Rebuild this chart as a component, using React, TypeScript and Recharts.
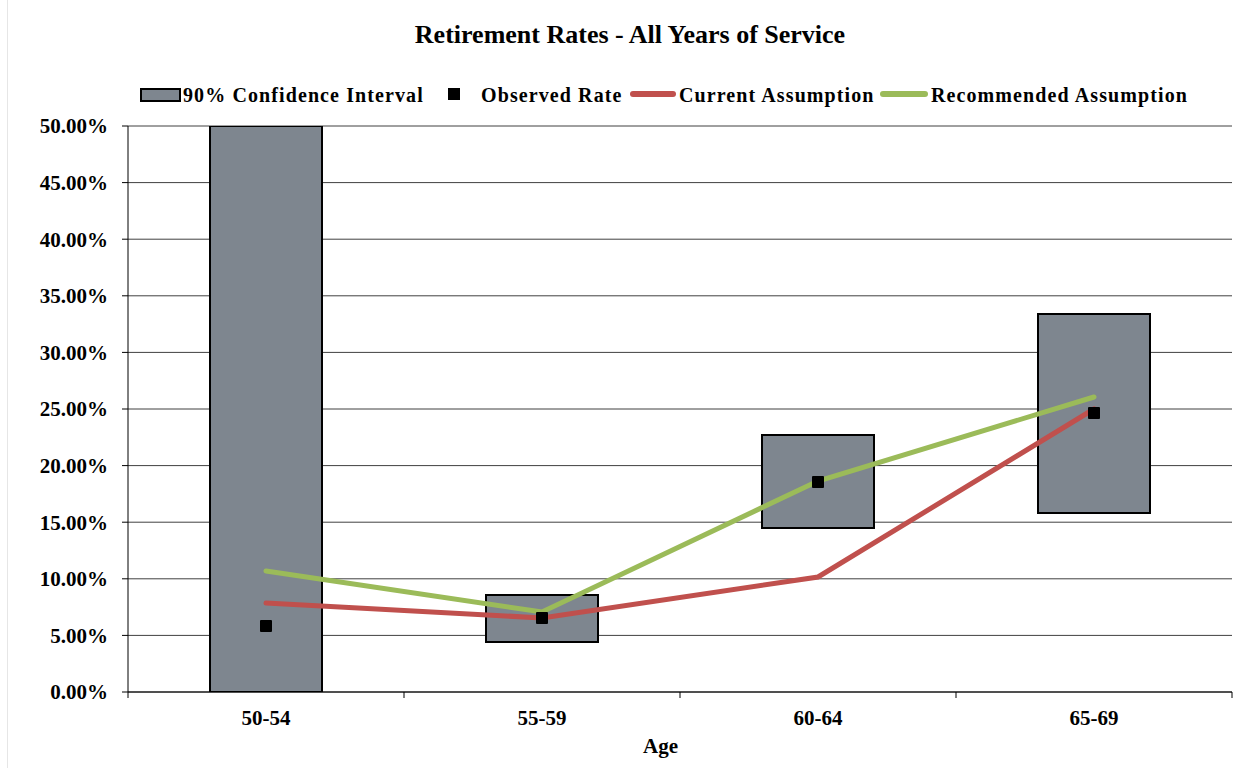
import { ComposedChart, Bar, Line, XAxis, YAxis, CartesianGrid } from "recharts";

const ages = ["50-54", "55-59", "60-64", "65-69"];
const ciLow = [0, 0.0442, 0.1449, 0.1581];
const ciHigh = [0.5, 0.0857, 0.227, 0.3339];
const observed = [0.0583, 0.0654, 0.1855, 0.2465];
const current = [0.0786, 0.0654, 0.1016, 0.25];
const recommended = [0.1069, 0.0707, 0.1864, 0.2606];
const yTicks = [0, 0.05, 0.1, 0.15, 0.2, 0.25, 0.3, 0.35, 0.4, 0.45, 0.5];

const data = ages.map((age, i) => ({
  age,
  ci: [ciLow[i], ciHigh[i]],
  observed: observed[i],
  current: current[i],
  recommended: recommended[i],
}));

const FONT = '"Liberation Serif", "Times New Roman", serif';
const GRAY = "#7e868f";
const RED = "#c0504d";
const GREEN = "#9bbb59";
const X_MARGIN = 18;

const Square = (props: any) => {
  const { cx, cy } = props;
  if (cx == null || cy == null) return null;
  return <rect x={cx - 6} y={cy - 6} width={12} height={12} fill="#000" rx={1} />;
};

// category label plus tick marks on the category boundaries
const AgeTick = (props: any) => {
  const { x, y, payload, index } = props;
  const half = payload && payload.offset ? payload.offset : 138;
  const axisY = y - X_MARGIN;
  const last = index === ages.length - 1;
  return (
    <g>
      <line x1={x - half} x2={x - half} y1={axisY} y2={axisY + 6} stroke="#000" />
      {last && <line x1={x + half} x2={x + half} y1={axisY} y2={axisY + 6} stroke="#000" />}
      <text x={x} y={y} dy="0.71em" textAnchor="middle" fill="#000" fontFamily={FONT} fontWeight={700} fontSize={21}>
        {payload.value}
      </text>
    </g>
  );
};

const legendText = { position: "absolute" as const, top: 84, fontFamily: FONT, fontWeight: 700, fontSize: 20, letterSpacing: 1.1, lineHeight: "22px", color: "#000", whiteSpace: "nowrap" as const };

export default function App() {
  return (
    <div style={{ position: "absolute", left: 0, top: 0, width: 1233, height: 768, background: "#fff" }}>
      <div style={{ position: "absolute", left: 7, top: 0, width: 1, height: 768, background: "#e6e6e6" }} />
      <div style={{ position: "absolute", top: 20, left: 0, width: 1260, textAlign: "center", fontFamily: FONT, fontWeight: 700, fontSize: 26 }}>
        Retirement Rates - All Years of Service
      </div>
      {/* legend */}
      <div style={{ position: "absolute", left: 140, top: 88, width: 37, height: 10, background: GRAY, border: "2px solid #000" }} />
      <span style={{ ...legendText, left: 183 }}>90% Confidence Interval</span>
      <div style={{ position: "absolute", left: 448, top: 88, width: 12, height: 12, background: "#000" }} />
      <span style={{ ...legendText, left: 481 }}>Observed Rate</span>
      <div style={{ position: "absolute", left: 630, top: 91, width: 46, height: 6, borderRadius: 3, background: RED }} />
      <span style={{ ...legendText, left: 679 }}>Current Assumption</span>
      <div style={{ position: "absolute", left: 880, top: 91, width: 48, height: 6, borderRadius: 3, background: GREEN }} />
      <span style={{ ...legendText, left: 931 }}>Recommended Assumption</span>

      <div style={{ position: "absolute", left: 0, top: 0 }}>
        <ComposedChart width={1233} height={768} data={data} margin={{ top: 126, right: 1, left: 0, bottom: 46 }}>
          <CartesianGrid vertical={false} stroke="#404040" strokeWidth={1} />
          <XAxis
            dataKey="age"
            height={30}
            axisLine={{ stroke: "#000" }}
            tickLine={false}
            tickSize={0}
            tickMargin={X_MARGIN}
            tick={<AgeTick />}
          />
          <YAxis
            width={128}
            domain={[0, 0.5]}
            ticks={yTicks}
            allowDataOverflow
            tickSize={6}
            tickMargin={14}
            axisLine={{ stroke: "#000" }}
            tickLine={{ stroke: "#000" }}
            tickFormatter={(v: number) => (v * 100).toFixed(2) + "%"}
            tick={{ fill: "#000", fontFamily: FONT, fontWeight: 700, fontSize: 21 }}
          />
          <Bar dataKey="ci" barSize={112} fill={GRAY} stroke="#000" strokeWidth={2} isAnimationActive={false} />
          <Line dataKey="current" stroke={RED} strokeWidth={5} dot={false} activeDot={false} strokeLinecap="round" isAnimationActive={false} />
          <Line dataKey="recommended" stroke={GREEN} strokeWidth={5} dot={false} activeDot={false} strokeLinecap="round" isAnimationActive={false} />
          <Line dataKey="observed" stroke="none" dot={<Square />} activeDot={false} isAnimationActive={false} />
        </ComposedChart>
      </div>
      <div style={{ position: "absolute", top: 734, left: 643, fontFamily: FONT, fontWeight: 700, fontSize: 21 }}>Age</div>
    </div>
  );
}
